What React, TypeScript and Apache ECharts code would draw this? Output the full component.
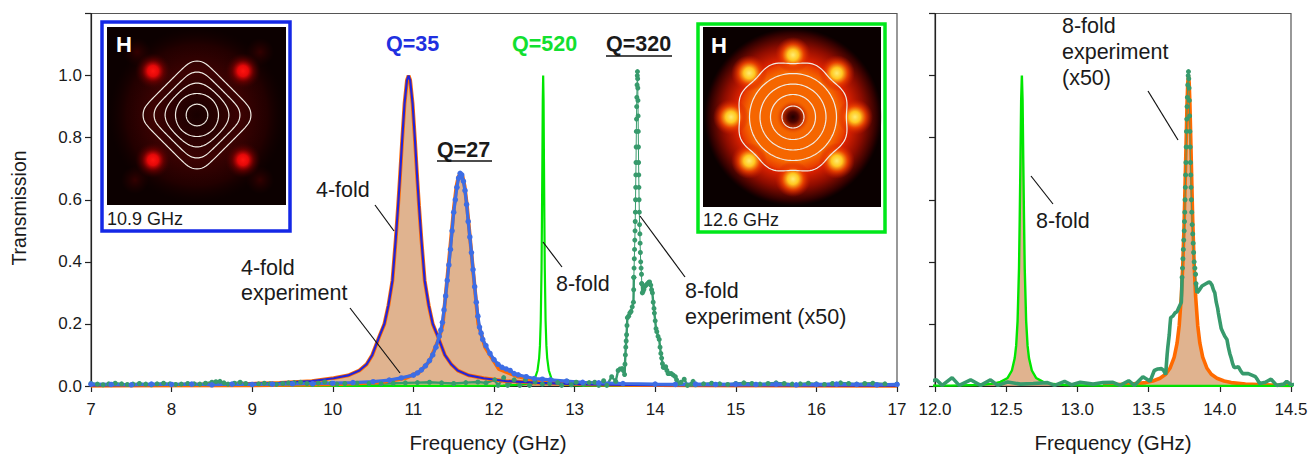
import React, { useEffect, useRef } from "react";
import * as echarts from "echarts";

type Pt = [number, number];

const xTicksLeft = [7, 17];
const xTicksRight = [12, 14.5];

// simulated 4-fold resonance, Q=35
const fourFoldSimA: Pt[] = [[7,.002],[8,.0035],[8.74,.005],[9.34,.01],[9.74,.016],[10.01,.025],[10.19,.034],[10.33,.05],[10.42,.07],[10.49,.10],[10.57,.155],[10.64,.20],[10.69,.26],[10.74,.34],[10.78,.47],[10.81,.58],[10.83,.66],[10.86,.79],[10.89,.91],[10.92,.985],[10.94,1],[10.96,.985],[10.99,.91],[11.02,.79],[11.05,.66],[11.07,.58],[11.10,.47],[11.14,.34],[11.19,.26],[11.24,.20],[11.31,.155],[11.39,.10],[11.47,.07],[11.55,.05],[11.69,.034],[11.87,.025],[12.14,.016],[12.54,.010],[13.14,.005],[14,.003],[15,.002],[17,.001]];
// simulated 4-fold resonance, Q=27
const fourFoldSimB: Pt[] = [[7,.001],[9,.002],[10,.005],[10.6,.012],[10.9,.025],[11.08,.046],[11.2,.08],[11.32,.155],[11.365,.20],[11.425,.36],[11.465,.47],[11.505,.58],[11.535,.645],[11.56,.675],[11.585,.685],[11.61,.675],[11.635,.645],[11.665,.58],[11.705,.47],[11.745,.36],[11.805,.20],[11.89,.125],[12.06,.055],[12.3,.03],[12.6,.016],[13.3,.006],[14,.003],[15,.002],[17,.001]];
// measured 4-fold transmission
const fourFoldExp: Pt[] = [[7,.006],[7.25,.005],[7.5,.004],[7.75,.006],[8,.005],[8.25,.006],[8.5,.004],[8.75,.006],[9,.005],[9.25,.006],[9.5,.007],[9.75,.008],[10,.009],[10.25,.011],[10.5,.014],[10.7,.019],[10.85,.026],[11.0,.035],[11.05,.042],[11.1,.052],[11.15,.065],[11.2,.082],[11.24,.10],[11.28,.125],[11.32,.16],[11.34,.18],[11.36,.205],[11.38,.245],[11.40,.29],[11.42,.34],[11.44,.39],[11.46,.44],[11.48,.50],[11.50,.56],[11.52,.60],[11.54,.64],[11.56,.67],[11.58,.685],[11.60,.68],[11.62,.66],[11.64,.63],[11.66,.585],[11.68,.53],[11.70,.48],[11.72,.43],[11.74,.375],[11.76,.32],[11.78,.27],[11.80,.225],[11.82,.19],[11.84,.17],[11.86,.15],[11.90,.13],[11.95,.105],[12.0,.085],[12.05,.07],[12.1,.06],[12.15,.055],[12.2,.05],[12.25,.04],[12.3,.036],[12.4,.03],[12.5,.024],[12.6,.022],[12.7,.02],[12.9,.016],[13.1,.012],[13.3,.01],[13.6,.008],[14,.006],[14.25,.005],[14.5,.006],[14.75,.005],[15,.006],[15.25,.005],[15.5,.006],[15.75,.004],[16,.005],[16.25,.006],[16.5,.005],[16.75,.004],[17,.005]];
// simulated 8-fold resonance, Q=520
const eightFoldSim: Pt[] = [[7,0],[11.5,.0005],[12.11,.0012],[12.31,.0034],[12.41,.0076],[12.46,.0134],[12.51,.026],[12.54,.05],[12.56,.09],[12.57,.13],[12.58,.21],[12.59,.38],[12.595,.54],[12.6,.72],[12.605,.92],[12.61,1],[12.615,.92],[12.62,.72],[12.625,.54],[12.63,.38],[12.64,.21],[12.65,.13],[12.66,.09],[12.68,.05],[12.71,.026],[12.76,.0134],[12.81,.0076],[12.91,.0034],[13.11,.0012],[14,.0003],[17,0]];
// fit to measured 8-fold peak
const eightFoldFit: Pt[] = [[13.18,.0028],[13.38,.0064],[13.48,.011],[13.53,.016],[13.58,.025],[13.62,.038],[13.65,.057],[13.68,.093],[13.70,.138],[13.715,.195],[13.73,.29],[13.74,.39],[13.75,.53],[13.76,.72],[13.77,.91],[13.775,.976],[13.78,1],[13.785,.976],[13.79,.91],[13.80,.72],[13.81,.53],[13.82,.39],[13.83,.29],[13.845,.195],[13.86,.138],[13.88,.093],[13.91,.057],[13.94,.038],[13.98,.025],[14.03,.016],[14.08,.011],[14.18,.0064],[14.38,.0028],[14.5,.002]];
// measured 8-fold transmission (x50)
const eightFoldExp: Pt[] = [[7,.008],[7.08,.006],[7.15,.004],[7.22,.007],[7.3,.009],[7.38,.007],[7.45,.005],[7.52,.006],[7.6,.008],[7.68,.006],[7.75,.004],[7.82,.007],[7.9,.009],[7.98,.007],[8.05,.005],[8.12,.006],[8.2,.008],[8.28,.007],[8.35,.006],[8.42,.009],[8.5,.012],[8.55,.014],[8.6,.015],[8.65,.01],[8.7,.006],[8.78,.009],[8.85,.012],[8.92,.008],[9,.005],[9.08,.007],[9.15,.009],[9.22,.007],[9.3,.005],[9.38,.008],[9.45,.01],[9.52,.011],[9.6,.012],[9.68,.008],[9.75,.005],[9.82,.009],[9.9,.013],[9.98,.009],[10.05,.006],[10.15,.008],[10.3,.009],[10.45,.008],[10.6,.007],[10.75,.009],[10.9,.01],[11.05,.011],[11.2,.012],[11.35,.01],[11.5,.008],[11.65,.011],[11.8,.013],[11.9,.01],[12.01,.02],[12.05,.002],[12.12,.027],[12.17,.002],[12.25,.02],[12.32,.002],[12.39,.02],[12.44,.002],[12.51,.013],[12.60,.006],[12.69,.008],[12.79,.011],[12.84,.002],[12.91,.015],[12.96,.004],[13.02,.012],[13.11,.006],[13.18,.011],[13.25,.012],[13.30,.002],[13.36,.017],[13.40,.002],[13.46,.03],[13.51,.015],[13.54,.05],[13.565,.055],[13.59,.056],[13.605,.05],[13.62,.037],[13.625,.07],[13.63,.10],[13.635,.125],[13.64,.145],[13.645,.165],[13.65,.195],[13.655,.22],[13.67,.225],[13.685,.235],[13.70,.24],[13.715,.255],[13.73,.27],[13.733,.31],[13.735,.35],[13.738,.38],[13.741,.41],[13.744,.44],[13.747,.47],[13.75,.50],[13.752,.53],[13.754,.56],[13.756,.60],[13.758,.64],[13.76,.68],[13.762,.72],[13.764,.77],[13.766,.82],[13.768,.86],[13.77,.90],[13.772,.93],[13.775,.97],[13.778,1.0],[13.78,1.013],[13.782,.99],[13.784,.96],[13.786,.92],[13.788,.87],[13.79,.82],[13.792,.77],[13.794,.72],[13.796,.68],[13.798,.64],[13.80,.60],[13.803,.56],[13.806,.52],[13.81,.49],[13.813,.46],[13.816,.43],[13.82,.40],[13.825,.38],[13.83,.36],[13.833,.33],[13.84,.30],[13.85,.305],[13.86,.312],[13.875,.322],[13.89,.326],[13.905,.33],[13.92,.334],[13.93,.335],[13.945,.325],[13.955,.31],[13.965,.30],[13.975,.27],[13.985,.25],[13.99,.235],[14.0,.21],[14.01,.185],[14.02,.175],[14.035,.16],[14.05,.15],[14.06,.125],[14.07,.105],[14.08,.09],[14.09,.072],[14.10,.06],[14.115,.06],[14.13,.062],[14.145,.05],[14.16,.04],[14.18,.04],[14.2,.04],[14.225,.035],[14.25,.03],[14.265,.02],[14.28,.008],[14.32,.012],[14.36,.022],[14.40,.002],[14.45,.006],[14.47,.015],[14.5,.004],[14.6,.007],[14.7,.009],[14.8,.007],[14.9,.005],[15,.008],[15.1,.01],[15.2,.008],[15.3,.006],[15.4,.008],[15.5,.01],[15.6,.008],[15.7,.006],[15.8,.007],[15.9,.009],[16,.007],[16.1,.005],[16.2,.008],[16.3,.01],[16.4,.008],[16.5,.006],[16.6,.008],[16.7,.009],[16.85,.007],[17,.006]];

const SANS = '"Liberation Sans", Arial, sans-serif';
const INK = "#1a1a1a";
const FILL = "rgba(208,140,85,0.66)";
const ORANGE = "#ff6a00";
const BRIGHT_GREEN = "#00e600";
const EXP_GREEN = "#379a6c";
const EXP_BLUE = "#3d6de4";
const LABEL = 21.5;

function txt(text: string, x: number, y: number, size = LABEL, fill = INK, weight = "normal") {
  return { type: "text", z: 100, x, y, style: { text, fill, font: `${weight} ${size}px ${SANS}`, verticalAlign: "middle", align: "left" } };
}
function seg(x1: number, y1: number, x2: number, y2: number, w = 1.2) {
  return { type: "line", z: 100, shape: { x1, y1, x2, y2 }, style: { stroke: "#111", lineWidth: w } };
}
function glow(cx: number, cy: number, r: number, stops: [number, string][], z = 92) {
  return {
    type: "circle", z, shape: { cx, cy, r },
    style: { fill: new echarts.graphic.RadialGradient(0.5, 0.5, 0.5, stops.map(([offset, color]) => ({ offset, color }))) },
  };
}
function contour(cx: number, cy: number, rad: (t: number) => number) {
  const points: number[][] = [];
  for (let i = 0; i < 144; i++) {
    const t = (i / 144) * Math.PI * 2;
    points.push([cx + rad(t) * Math.sin(t), cy - rad(t) * Math.cos(t)]);
  }
  return { type: "polygon", z: 96, shape: { points }, style: { fill: "none", stroke: "#f0ece4", lineWidth: 1.2 } };
}
// a diamond with tips rounded off by a circle
function diamond(tip: number, cap: number, k = 0.5) {
  return (t: number) => {
    const side = tip / (Math.abs(Math.sin(t)) + Math.abs(Math.cos(t)));
    return -Math.log(Math.exp(-k * side) + Math.exp(-k * cap)) / k;
  };
}

function insetFour() {
  const cx = 197, cy = 115;
  const red: [number, string][] = [[0, "#ff1410"], [0.3, "#e40808"], [0.6, "rgba(130,0,0,0.6)"], [1, "rgba(60,0,0,0)"]];
  const faint: [number, string][] = [[0, "rgba(90,0,0,0.5)"], [1, "rgba(60,0,0,0)"]];
  const els: any[] = [
    { type: "rect", z: 90, shape: { x: 102, y: 22, width: 188, height: 209 }, style: { fill: "#fff", stroke: "#1428e6", lineWidth: 3.5 } },
    { type: "rect", z: 91, shape: { x: 107, y: 27, width: 179, height: 178 }, style: { fill: "#0c0000" } },
    glow(cx, cy, 88, [[0, "#180000"], [0.5, "#3c0202"], [0.8, "#220000"], [1, "rgba(20,0,0,0)"]]),
    ...[[137, 52], [260, 52], [135, 180], [260, 180]].map(([x, y]) => glow(x, y, 14, faint)),
    ...[[153, 71], [243, 71], [153, 160], [243, 160]].map(([x, y]) => glow(x, y, 18, red)),
    contour(cx, cy, diamond(61, 54)),
    contour(cx, cy, diamond(50, 43)),
    contour(cx, cy, diamond(42, 32, 0.35)),
    contour(cx, cy, () => 21.5),
    contour(cx, cy, () => 10.8),
    txt("H", 116, 44, 22, "#ffffff", "bold"),
    txt("10.9 GHz", 107, 219, 18),
  ];
  return els;
}

function insetEight() {
  const cx = 793, cy = 117;
  const blob: [number, string][] = [[0, "#ffec70"], [0.3, "#ffc820"], [0.6, "rgba(240,70,0,0.85)"], [1, "rgba(200,20,0,0)"]];
  const blobs: any[] = [];
  for (let i = 0; i < 8; i++) {
    const a = (i * Math.PI) / 4;
    blobs.push(glow(cx + 62 * Math.sin(a), cy - 62 * Math.cos(a), 18, blob, 94));
  }
  return [
    { type: "rect", z: 90, shape: { x: 698, y: 24, width: 187, height: 208 }, style: { fill: "#fff", stroke: "#00e81a", lineWidth: 3.5 } },
    { type: "rect", z: 91, shape: { x: 703, y: 27, width: 178, height: 180 }, style: { fill: "#0a0000" } },
    glow(cx, cy, 89, [[0, "#e83c00"], [0.65, "#d82000"], [0.8, "#8c0c00"], [0.95, "#2a0000"], [1, "rgba(30,0,0,0)"]]),
    glow(cx, cy, 58, [[0, "#f56600"], [0.78, "#f56600"], [0.92, "#e83c00"], [1, "rgba(220,40,0,0)"]], 93),
    ...blobs,
    glow(cx, cy, 17, [[0, "#200000"], [0.3, "#500400"], [0.7, "#d83800"], [1, "rgba(240,96,0,0)"]], 95),
    contour(cx, cy, (t) => 55 - 1.6 * Math.cos(8 * t)),
    contour(cx, cy, () => 43.5),
    contour(cx, cy, () => 33),
    contour(cx, cy, () => 22.5),
    contour(cx, cy, () => 11),
    txt("H", 711, 45, 22, "#ffffff", "bold"),
    txt("12.6 GHz", 703, 220, 18),
  ];
}

const annotations = [
  txt("Q=35", 386, 44, 21.5, "#2030e0", "bold"),
  txt("Q=520", 512, 44, 21.5, "#12e030", "bold"),
  txt("Q=320", 606, 44, 21.5, "#1a1a1a", "bold"),
  seg(606, 56, 672, 56, 1.6),
  txt("Q=27", 437, 150, 21.5, "#1a1a1a", "bold"),
  seg(437, 161, 492, 161, 1.6),
  txt("4-fold", 316, 190),
  seg(375, 205, 394, 231),
  txt("4-fold", 241, 268),
  txt("experiment", 241, 293),
  seg(350, 308, 400, 373),
  txt("8-fold", 556, 284),
  seg(543, 242, 562, 267),
  txt("8-fold", 685, 291),
  txt("experiment (x50)", 685, 317),
  seg(640, 216, 685, 277),
  txt("8-fold", 1062, 26),
  txt("experiment", 1062, 52),
  txt("(x50)", 1062, 78),
  seg(1148, 91, 1178, 140),
  txt("8-fold", 1036, 221),
  seg(1031, 176, 1053, 204),
  { type: "text", z: 100, x: 19, y: 208, rotation: Math.PI / 2, style: { text: "Transmission", fill: INK, font: `19.5px ${SANS}`, align: "center", verticalAlign: "middle" } },
];

function lineSeries(data: Pt[], color: string, width: number, axis: number, extra: object = {}) {
  return {
    type: "line", data, xAxisIndex: axis, yAxisIndex: axis, silent: true, showSymbol: false,
    lineStyle: { color, width }, itemStyle: { color }, ...extra,
  };
}
function dotted(size: number) {
  return { showSymbol: true, showAllSymbol: true, symbol: "circle", symbolSize: size };
}
function areaSeries(data: Pt[], axis: number) {
  return {
    type: "line", data, xAxisIndex: axis, yAxisIndex: axis, silent: true, showSymbol: false,
    lineStyle: { width: 0 }, areaStyle: { color: FILL, opacity: 1, origin: "start" },
  };
}

const envelope: Pt[] = [
  ...fourFoldSimA.filter(([x]) => x >= 9.92 && x <= 11.31),
  ...fourFoldSimB.filter(([x]) => x >= 11.32 && x <= 13.3),
];
const rightSimWindow = eightFoldSim.filter(([x]) => x >= 12.31 && x <= 12.91);
// The measured peak is a row of separate dots; everywhere else they merge into a band.
const expBandLow = eightFoldExp.filter(([x]) => x <= 13.735);
const expPeak = eightFoldExp.filter(([x]) => x >= 13.735 && x <= 13.833);
const expBandHigh = eightFoldExp.filter(([x]) => x >= 13.833);

function buildOption() {
  const axisText = { color: INK, fontFamily: SANS, fontSize: 17 };
  const axisLine = { show: true, lineStyle: { color: "#222", width: 1.2 } };
  const tick = { show: true, length: 6, lineStyle: { color: "#222", width: 1.2 } };
  const xName = { color: INK, fontFamily: SANS, fontSize: 20.5 };
  const common = { type: "value", splitLine: { show: false }, axisLine, axisTick: tick };
  return {
    animation: false,
    backgroundColor: "#ffffff",
    grid: [
      { left: 91, top: 13.5, width: 806, height: 373.5, show: true, borderColor: "#555", borderWidth: 1.2, backgroundColor: "transparent" },
      { left: 935, top: 13.5, width: 356, height: 373.5, show: true, borderColor: "#555", borderWidth: 1.2, backgroundColor: "transparent" },
    ],
    xAxis: [
      { ...common, gridIndex: 0, min: xTicksLeft[0], max: xTicksLeft[1], interval: 1, axisLabel: { ...axisText, margin: 15 }, name: "Frequency (GHz)", nameLocation: "middle", nameGap: 46, nameTextStyle: { ...xName, padding: [0, 12, 0, 0] } },
      { ...common, gridIndex: 1, min: xTicksRight[0], max: xTicksRight[1], interval: 0.5, axisLabel: { ...axisText, margin: 15, formatter: (v: number) => v.toFixed(1) }, name: "Frequency (GHz)", nameLocation: "middle", nameGap: 46, nameTextStyle: xName },
    ],
    yAxis: [
      { ...common, gridIndex: 0, min: 0, max: 1.2, interval: 0.2, axisLabel: { ...axisText, margin: 9, formatter: (v: number) => (v > 1.1 ? "" : v.toFixed(1)) } },
      { ...common, gridIndex: 1, min: 0, max: 1.2, interval: 0.2, axisLabel: { show: false } },
    ],
    series: [
      lineSeries(eightFoldSim, BRIGHT_GREEN, 2.2, 0),
      lineSeries(expBandLow, EXP_GREEN, 2.4, 0, dotted(5)),
      lineSeries(expPeak, EXP_GREEN, 1, 0, dotted(5)),
      lineSeries(expBandHigh, EXP_GREEN, 2.4, 0, dotted(5)),
      lineSeries(fourFoldSimA, ORANGE, 3.8, 0),
      lineSeries(fourFoldSimB, ORANGE, 3.8, 0),
      lineSeries(fourFoldSimA, "#2424d8", 2.2, 0),
      lineSeries(fourFoldExp, EXP_BLUE, 3.2, 0, dotted(5.5)),
      areaSeries(envelope, 0),
      lineSeries(eightFoldFit, ORANGE, 3.6, 1),
      areaSeries(eightFoldFit, 1),
      areaSeries(rightSimWindow, 1),
      lineSeries(eightFoldSim, BRIGHT_GREEN, 2.4, 1),
      lineSeries(expBandLow, EXP_GREEN, 3.6, 1),
      lineSeries(expPeak, EXP_GREEN, 0.8, 1, dotted(5)),
      lineSeries(expBandHigh, EXP_GREEN, 3.6, 1),
    ],
    graphic: { elements: [...insetFour(), ...insetEight(), ...annotations] },
  };
}

export default function App() {
  const ref = useRef<HTMLDivElement>(null);
  useEffect(() => {
    const chart = echarts.init(ref.current!, undefined, { renderer: "svg" });
    chart.setOption(buildOption() as any);
    return () => chart.dispose();
  }, []);
  return <div ref={ref} style={{ position: "fixed", left: 0, top: 0, width: 1311, height: 458 }} />;
}
